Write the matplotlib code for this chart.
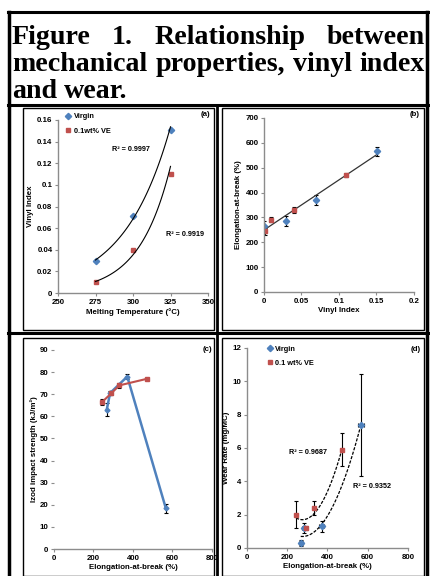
import numpy as np
import matplotlib
matplotlib.use("Agg")
import matplotlib.pyplot as plt
from matplotlib.lines import Line2D
from matplotlib.patches import Rectangle

W, H = 431, 576
BLUE = "#4F81BD"
RED = "#C0504D"
GREY = "#8C8C8C"

# ---- data ----
title_lines = ["Figure 1. Relationship between",
               "mechanical properties, vinyl index",
               "and wear."]

melt_temp = [275, 300, 325]
vi_melt_virgin = [0.030, 0.071, 0.151]
vi_melt_ve = [0.010, 0.040, 0.110]

vi_virgin = [0.0, 0.030, 0.070, 0.151]
vi_ve = [0.001, 0.010, 0.040, 0.110]
eab_virgin = [267, 284, 371, 566]
eab_ve = [244, 291, 331, 472]
eab_err_virgin = [18, 20, 20, 18]
eab_err_ve = [15, 10, 12, 8]

izod_virgin = [63.0, 70.5, 78.0, 18.5]
izod_ve = [66.5, 70.5, 74.0, 77.0]
izod_err_virgin = [3.0, 1.0, 1.0, 2.0]
izod_err_ve = [1.5, 1.0, 1.0, 0.5]

wear_virgin = [0.3, 1.2, 1.3, 7.4]
wear_ve = [2.0, 1.2, 2.4, 5.9]
wear_err_virgin = [0.2, 0.3, 0.35, 3.05]
wear_err_ve = [0.8, 0.1, 0.4, 1.0]
eab_xerr_virgin = [10, 10, 14, 16]

r2_a = ["R² = 0.9997", "R² = 0.9919"]
r2_d = ["R² = 0.9687", "R² = 0.9352"]

plt.rcParams['font.family'] = ['Liberation Sans', 'DejaVu Sans']
plt.rcParams['font.weight'] = 'bold'
FS = 5.7

fig = plt.figure(figsize=(W / 100, H / 100), dpi=100)


def fx(x):
    return x / W


def fy(y):
    return 1 - y / H


def hline(y, x0, x1, lw=2.0):
    fig.add_artist(Line2D([fx(x0), fx(x1)], [fy(y), fy(y)], color="black", lw=lw))


def vline(x, y0, y1, lw=2.0):
    fig.add_artist(Line2D([fx(x), fx(x)], [fy(y0), fy(y1)], color="black", lw=lw))


def box(x0, y0, x1, y1):
    fig.add_artist(Rectangle((fx(x0), fy(y1)), fx(x1) - fx(x0), fy(y0) - fy(y1),
                             fill=False, ec="black", lw=1.0))


# table frame
hline(12, 8, 428, 2.2)
hline(105, 8, 428, 2.2)
hline(333, 8, 428, 2.2)
vline(9, 12, 576, 2.5)
vline(427, 12, 576, 2.5)
vline(217, 105, 576, 2.0)

# chart boxes
box(23, 108, 214, 330)
box(222, 108, 424, 330)
box(23, 338, 214, 576)
box(222, 338, 424, 576)

# ---- justified title ----
renderer = fig.canvas.get_renderer()
tfont = dict(family=['Liberation Serif', 'DejaVu Serif'], weight='bold')


def text_width(s, size):
    t = fig.text(0, 0, s, fontsize=size, **tfont)
    w = t.get_window_extent(renderer).width
    t.remove()
    return w


x_left, x_right = 12, 425
size = 10 * (x_right - x_left) / text_width(title_lines[1], 10)
baselines = [44, 71, 98]
for i, line in enumerate(title_lines):
    words = line.split(" ")
    widths = [text_width(w, size) for w in words]
    if i < len(title_lines) - 1:
        gap = (x_right - x_left - sum(widths)) / (len(words) - 1)
    else:
        gap = text_width("a b", size) - text_width("ab", size)
    x = x_left
    for w, wd in zip(words, widths):
        fig.text(fx(x), fy(baselines[i]), w, fontsize=size, ha="left",
                 va="baseline", **tfont)
        x += wd + gap


def style(ax, show_left=True):
    for s in ["top", "right"]:
        ax.spines[s].set_visible(False)
    for s in ["left", "bottom"]:
        ax.spines[s].set_color(GREY)
        ax.spines[s].set_linewidth(1.0)
    ax.spines["left"].set_visible(show_left)
    ax.tick_params(axis="both", direction="out", length=2.5, width=0.8,
                   color=GREY, labelsize=FS, pad=1.5)
    for lab in ax.get_xticklabels() + ax.get_yticklabels():
        lab.set_fontweight("bold")
    ax.patch.set_alpha(0)


def add_axes(x0, y0, x1, y1):
    return fig.add_axes([fx(x0), fy(y1), fx(x1) - fx(x0), fy(y0) - fy(y1)])


def gfmt(v):
    return ("%g" % v)


# ---- (a) ----
ax = add_axes(58, 120, 208, 293)
ax.set_xlim(250, 350)
ax.set_ylim(0, 0.16)
ax.set_xticks(np.arange(250, 351, 25))
yt = np.round(np.arange(0, 0.161, 0.02), 2)
ax.set_yticks(yt)
ax.set_yticklabels([gfmt(v) for v in yt])
ax.plot(melt_temp, vi_melt_virgin, "D", color=BLUE, ms=3.2, label="Virgin")
ax.plot(melt_temp, vi_melt_ve, "s", color=RED, ms=3.4, label="0.1wt% VE")
for yv in (vi_melt_virgin, vi_melt_ve):
    b, a = np.polyfit(melt_temp, np.log(yv), 1)
    xs = np.linspace(melt_temp[0], melt_temp[-1], 100)
    ax.plot(xs, np.exp(a + b * xs), color="black", lw=0.8)
ax.text(0.36, 0.82, r2_a[0], transform=ax.transAxes, fontsize=FS - 0.5)
ax.text(0.72, 0.33, r2_a[1], transform=ax.transAxes, fontsize=FS - 0.5)
ax.set_xlabel("Melting Temperature (°C)", fontsize=FS, fontweight="bold", labelpad=2)
ax.set_ylabel("Vinyl Index", fontsize=FS, fontweight="bold", labelpad=2)
ax.legend(loc="upper left", bbox_to_anchor=(0.02, 1.06), frameon=False,
          fontsize=FS - 0.4, handlelength=0.8, handletextpad=0.4,
          labelspacing=1.0, borderpad=0)
style(ax)
fig.text(fx(210), fy(116), "(a)", fontsize=FS, ha="right", weight="bold")

# ---- (b) ----
ax = add_axes(264, 118, 414, 292)
ax.set_xlim(0, 0.2)
ax.set_ylim(0, 700)
xt = np.round(np.arange(0, 0.201, 0.05), 2)
ax.set_xticks(xt)
ax.set_xticklabels([gfmt(v) for v in xt])
ax.set_yticks(np.arange(0, 701, 100))
ax.errorbar(vi_virgin, eab_virgin, yerr=eab_err_virgin, fmt="D", color=BLUE, ms=3.2,
            ecolor="black", elinewidth=0.8, capsize=1.5, capthick=0.8)
ax.errorbar(vi_ve, eab_ve, yerr=eab_err_ve, fmt="s", color=RED, ms=3.4,
            ecolor="black", elinewidth=0.8, capsize=1.5, capthick=0.8)
allx = np.array(vi_virgin + vi_ve)
ally = np.array(eab_virgin + eab_ve)
m, c = np.polyfit(allx, ally, 1)
xs = np.array([0, max(allx)])
ax.plot(xs, m * xs + c, color="#333333", lw=0.9)
ax.set_xlabel("Vinyl Index", fontsize=FS, fontweight="bold", labelpad=2)
ax.set_ylabel("Elongation-at-break (%)", fontsize=FS, fontweight="bold", labelpad=2)
style(ax)
fig.text(fx(420), fy(116), "(b)", fontsize=FS, ha="right", weight="bold")

# ---- (c) ----
ax = add_axes(54, 350, 212, 549)
ax.set_xlim(0, 800)
ax.set_ylim(0, 90)
ax.set_xticks(np.arange(0, 801, 200))
ax.set_yticks(np.arange(0, 91, 10))
ov = np.argsort(eab_virgin)
oe = np.argsort(eab_ve)
ax.errorbar(np.array(eab_virgin)[ov], np.array(izod_virgin)[ov],
            yerr=np.array(izod_err_virgin)[ov], fmt="-D", color=BLUE, lw=1.8, ms=2.5,
            ecolor="black", elinewidth=0.8, capsize=1.5, capthick=0.8)
ax.errorbar(np.array(eab_ve)[oe], np.array(izod_ve)[oe],
            yerr=np.array(izod_err_ve)[oe], fmt="-s", color=RED, lw=1.5, ms=2.8,
            ecolor="black", elinewidth=0.8, capsize=1.5, capthick=0.8)
ax.set_xlabel("Elongation-at-break (%)", fontsize=FS, fontweight="bold", labelpad=2)
ax.set_ylabel("Izod impact strength (kJ/m²)", fontsize=FS, fontweight="bold", labelpad=1)
style(ax, show_left=False)
fig.text(fx(212), fy(351), "(c)", fontsize=FS, ha="right", weight="bold")

# ---- (d) ----
ax = add_axes(247, 348, 408, 548)
ax.set_xlim(0, 800)
ax.set_ylim(0, 12)
ax.set_xticks(np.arange(0, 801, 200))
ax.set_yticks(np.arange(0, 13, 2))
ax.errorbar(eab_virgin, wear_virgin, yerr=wear_err_virgin, xerr=eab_xerr_virgin,
            fmt="D", color=BLUE, ms=3.2, ecolor="black", elinewidth=0.8,
            capsize=1.5, capthick=0.8, label="Virgin")
ax.errorbar(eab_ve, wear_ve, yerr=wear_err_ve, fmt="s", color=RED, ms=3.4,
            ecolor="black", elinewidth=0.8, capsize=1.5, capthick=0.8,
            label="0.1 wt% VE")
for xv, yv in ((eab_ve, wear_ve), (eab_virgin, wear_virgin)):
    p = np.polyfit(xv, yv, 2)
    xs = np.linspace(min(xv), max(xv), 100)
    ax.plot(xs, np.polyval(p, xs), color="black", lw=0.9, ls=(0, (2.5, 1.2)))
ax.text(0.26, 0.47, r2_d[0], transform=ax.transAxes, fontsize=FS - 0.5)
ax.text(0.66, 0.30, r2_d[1], transform=ax.transAxes, fontsize=FS - 0.5)
ax.set_xlabel("Elongation-at-break (%)", fontsize=FS, fontweight="bold", labelpad=2)
ax.set_ylabel("Wear Rate (mg/MC)", fontsize=FS, fontweight="bold", labelpad=2)
h, l = ax.get_legend_handles_labels()
ax.legend([hh[0] for hh in h], l, loc="upper left", bbox_to_anchor=(0.1, 1.03),
          frameon=False, fontsize=FS - 0.4, handlelength=0.8, handletextpad=0.3,
          labelspacing=0.9, borderpad=0)
style(ax)
fig.text(fx(421), fy(351), "(d)", fontsize=FS, ha="right", weight="bold")

fig.savefig("out.png", dpi=100)
